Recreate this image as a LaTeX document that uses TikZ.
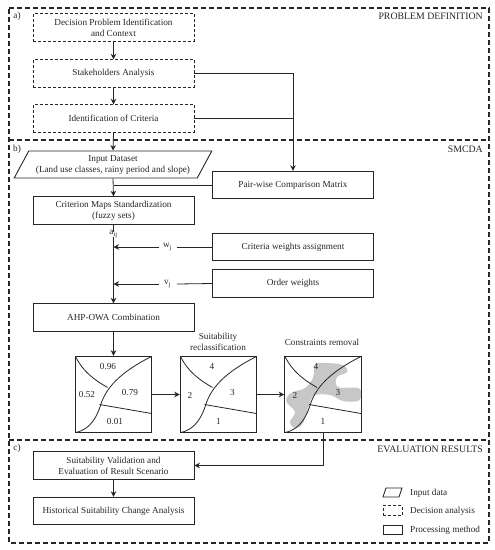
\documentclass[tikz,border=0pt]{standalone}
\usepackage{fontspec}
\setmainfont{Liberation Serif}
\usetikzlibrary{arrows.meta,shapes.geometric}
\definecolor{ink}{gray}{0.15}
\tikzset{
  x=1pt,y=-1pt,
  every node/.style={text=ink,font=\fontsize{9.2}{11}\selectfont},
  box/.style={draw=ink,line width=0.9pt,minimum width=161pt,minimum height=27.5pt,inner sep=0pt,align=center},
  dbox/.style={box,densely dashed},
  wbox/.style={box},
  mapbox/.style={draw=ink,line width=1pt,minimum width=76.5pt,minimum height=76.5pt,inner sep=0pt},
  conn/.style={draw=ink,line width=0.8pt},
  arr/.style={conn,-{Stealth[length=5.5pt,width=5.5pt]}},
  frame/.style={draw=ink,line width=1.3pt,dash pattern=on 5pt off 3pt},
  lab/.style={inner sep=0pt},
  head/.style={lab,anchor=east,font=\fontsize{9.8}{11}\selectfont},
  para/.style={draw=ink,line width=0.9pt,shape=trapezium,trapezium left angle=55,trapezium right angle=125,trapezium stretches=true,minimum width=198pt,minimum height=27pt,inner sep=0pt,align=center},
  curve/.style={draw=ink,line width=0.8pt}
}
\newcommand{\mapcurves}{%
  \draw[curve] (-38,38) .. controls (-22,35) and (-16,20) .. (-13,11) .. controls (-8,-6) and (6,-22) .. (38,-38);
  \draw[curve] (-38,-38) .. controls (-30,-22) and (-18,-14) .. (-6,-7);
  \draw[curve] (-14,10) -- (38,19);
}
\begin{document}
\begin{tikzpicture}
\useasboundingbox (0,0) rectangle (495,550);
\fill[white] (0,0) rectangle (495,550);
% frames
\draw[frame] (9,8) -- (489,8) -- (489,543) -- (9,543) -- cycle;
\draw[frame] (9,140) -- (489,140);
\draw[frame] (9,440) -- (489,440);
\node[head] (h1) at (483,16) {PROBLEM DEFINITION};
\node[head] (h2) at (483,149) {SMCDA};
\node[head] (h3) at (483,449) {EVALUATION RESULTS};
\node[lab] (la) at (17,16) {a)};
\node[lab] (lb) at (17,149) {b)};
\node[lab] (lc) at (17,448) {c)};
% boxes
\node[dbox] (dec) at (113.5,27.5) {Decision Problem Identification\\and Context};
\node[dbox] (sta) at (113.5,73.5) {Stakeholders Analysis};
\node[dbox] (ide) at (113.5,118.5) {Identification of Criteria};
\node[para] (inp) at (113,164.5) {Input Dataset\\(Land use classes, rainy period and slope)};
\node[wbox] (pair) at (293,185) {Pair-wise Comparison Matrix};
\node[wbox] (cri) at (113.5,210.5) {Criterion Maps Standardization\\(fuzzy sets)};
\node[wbox] (cw) at (293,247) {Criteria weights assignment};
\node[wbox] (ow) at (293,283.5) {Order weights};
\node[wbox] (ahp) at (113.5,317.5) {AHP-OWA Combination};
\node[wbox] (val) at (113.5,465.5) {Suitability Validation and\\Evaluation of Result Scenario};
\node[wbox] (his) at (113.5,511) {Historical Suitability Change Analysis};
\node[lab] (aij) at (113.5,234) {a$_{\mathrm{ij}}$};
\node[lab] (wj) at (167.5,247) {w$_{\mathrm{j}}$};
\node[lab] (vj) at (167.5,284) {v$_{\mathrm{j}}$};
% maps
\fill[black!22] plot[smooth cycle,tension=0.6] coordinates {(287,397) (293,392) (305,388) (313,378) (315,365) (325,363) (343,365) (347,372) (337,377) (338,387) (358,388) (361,395) (358,401) (343,401) (330,395) (315,395) (310,402) (303,423) (295,428) (290,422) (295,412) (287,403)};
\node[mapbox] (m1) at (113.5,394.5) {};
\node[mapbox] (m2) at (218.5,394.5) {};
\node[mapbox] (m3) at (323,394.5) {};
\begin{scope}[shift={(m1.center)}]\mapcurves\end{scope}
\begin{scope}[shift={(m2.center)}]\mapcurves\end{scope}
\begin{scope}[shift={(m3.center)}]\mapcurves\end{scope}
\node[lab] (t1a) at (108,366) {0.96};
\node[lab] (t1b) at (87,394.5) {0.52};
\node[lab] (t1c) at (130,392) {0.79};
\node[lab] (t1d) at (115,421) {0.01};
\node[lab] (t2a) at (212,366.5) {4};
\node[lab] (t2b) at (190,395) {2};
\node[lab] (t2c) at (232.5,392) {3};
\node[lab] (t2d) at (218.5,421) {1};
\node[lab] (t3a) at (316,366) {4};
\node[lab] (t3b) at (295,395) {2};
\node[lab] (t3c) at (338,392) {3};
\node[lab] (t3d) at (323,421) {1};
\node[lab,align=center] (s2) at (218,342) {Suitability\\reclassification};
\node[lab] (s3) at (322,342) {Constraints removal};
% connectors
\draw[arr] (dec.south) -- (sta.north);
\draw[arr] (sta.south) -- (ide.north);
\draw[arr] (ide.south) -- (inp.north);
\draw[arr] (inp.south) -- (cri.north);
\draw[conn] (pair.west) -- (pair.west -| cri.north);
\coordinate (jn) at (sta.east -| pair.north);
\draw[arr] (sta.east) -- (jn) -- (pair.north);
\draw[conn] (ide.east) -- (ide.east -| pair.north);
\draw[conn] (cri.south) -- ([yshift=-2pt]aij.north);
\draw[arr] ([yshift=1pt]aij.south) -- (ahp.north);
\draw[conn] (cw.west) -- ([xshift=5pt]wj.east);
\draw[conn] (ow.west) -- ([xshift=6pt]vj.east);
\draw[arr] ([xshift=-4pt]wj.west) -- (wj.west -| aij.south);
\draw[arr] ([xshift=-5pt]vj.west) -- (vj.west -| aij.south);
\draw[arr] (ahp.south) -- (m1.north);
\draw[arr] (m1.east) -- (m2.west);
\draw[arr] (m2.east) -- (m3.west);
\coordinate (bend) at (m3.south |- val.east);
\draw[arr] (m3.south) -- (bend) -- (val.east);
\draw[arr] (val.south) -- (his.north);
% legend
\draw[draw=ink,line width=0.8pt] (383,497) -- (386,488) -- (402,488) -- (399,497) -- cycle;
\node[draw=ink,line width=0.8pt,densely dashed,minimum width=19pt,minimum height=10pt,inner sep=0pt] (l2) at (392.5,510.5) {};
\node[draw=ink,line width=0.8pt,minimum width=19pt,minimum height=9pt,inner sep=0pt] (l3) at (392.5,529.5) {};
\node[lab,anchor=west] (lt1) at (410,493) {Input data};
\node[lab,anchor=west] (lt2) at (410,511) {Decision analysis};
\node[lab,anchor=west] (lt3) at (410,530) {Processing method};
\end{tikzpicture}
\end{document}
